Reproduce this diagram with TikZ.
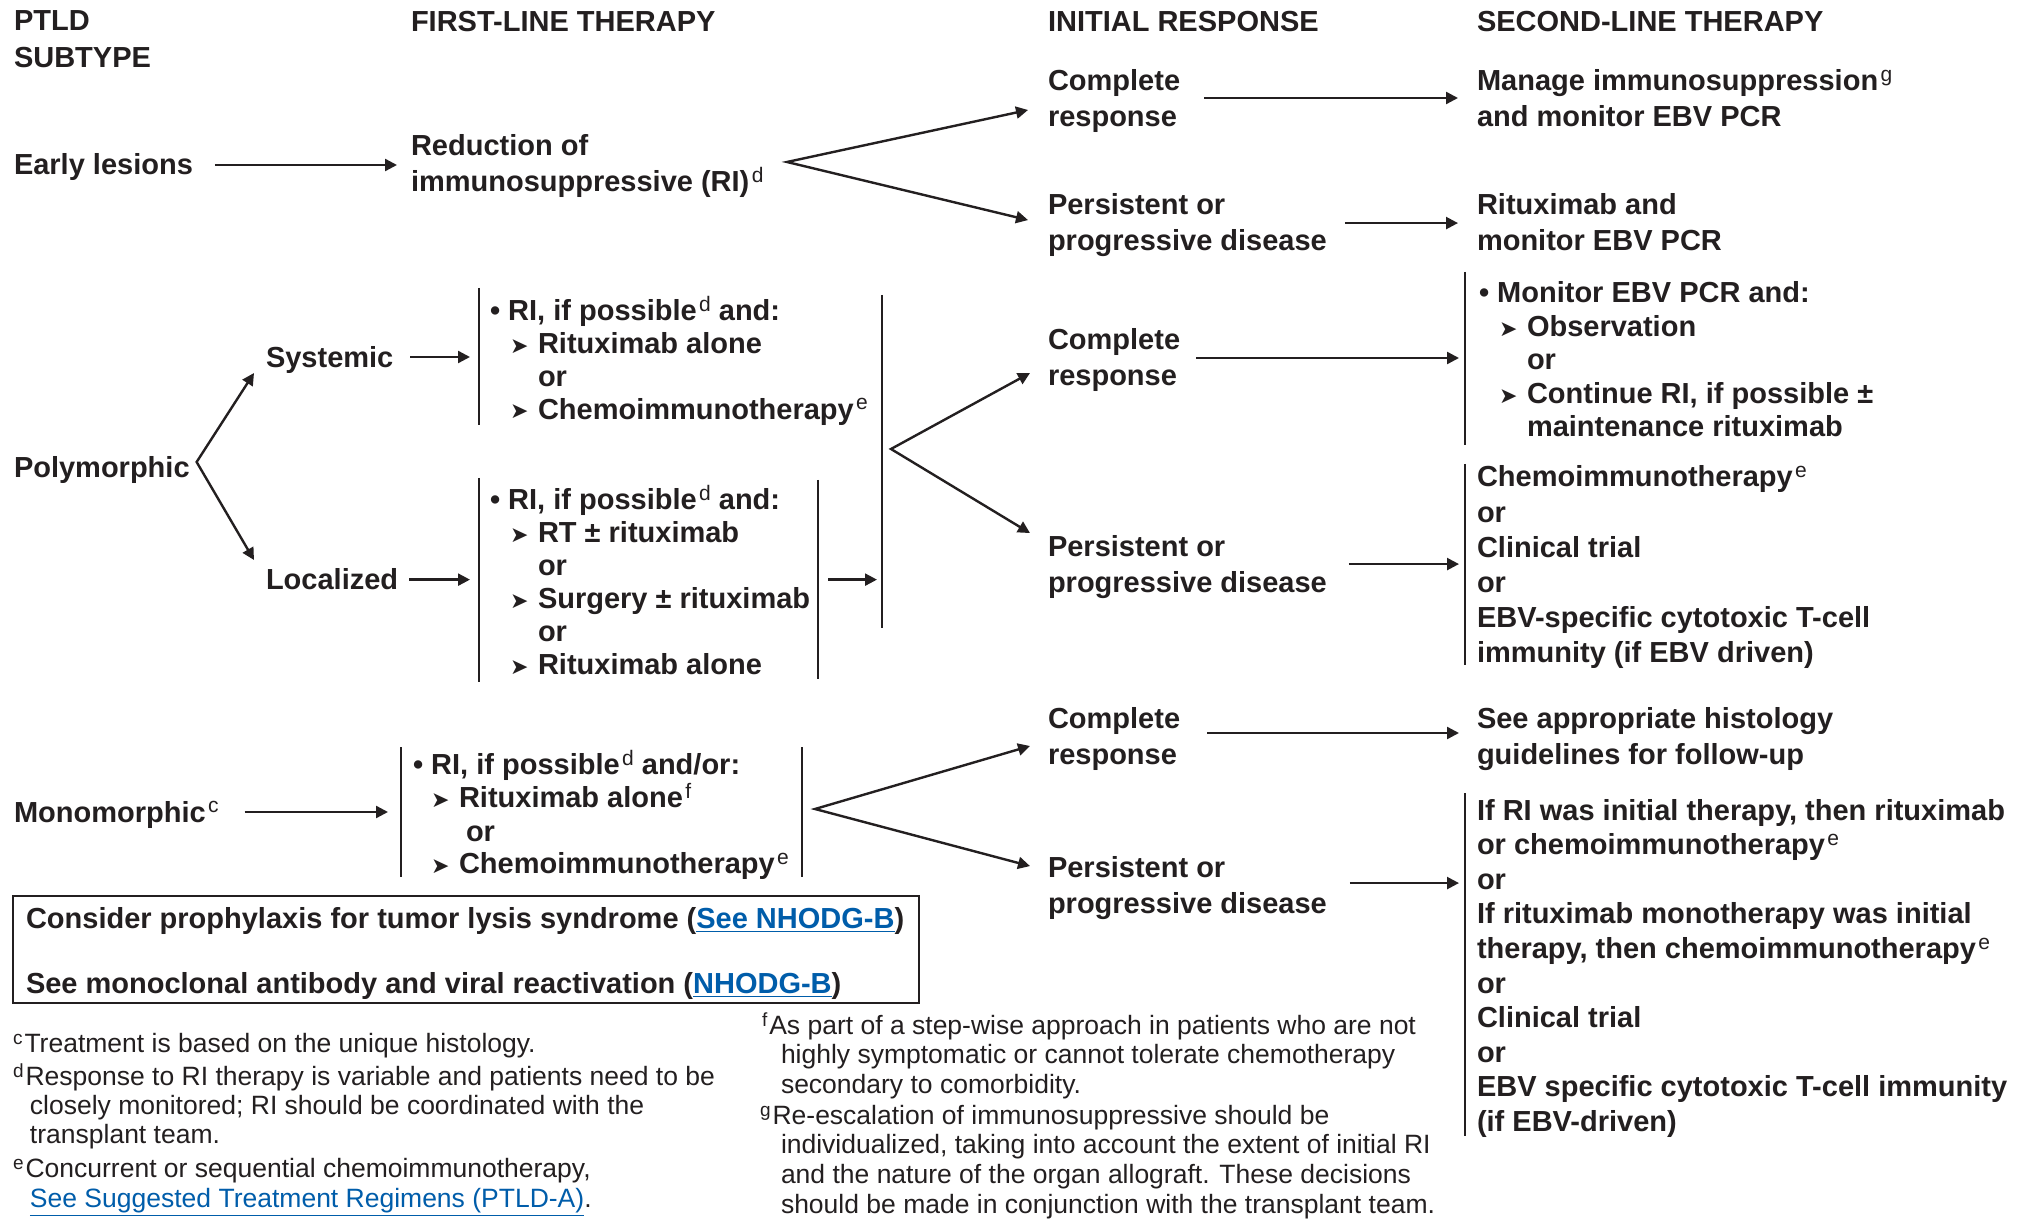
\documentclass[tikz,border=0pt]{standalone}
\usepackage{fontspec}
\setmainfont{Liberation Sans}
\newfontfamily\dvs{DejaVu Sans}
\usetikzlibrary{arrows.meta,calc}
\definecolor{ink}{HTML}{231F20}
\definecolor{linkblue}{HTML}{005DAA}
\newcommand\spr[1]{\kern1.2pt\raisebox{4.6pt}{\fontsize{10.5pt}{10.5pt}\selectfont\mdseries #1}}
\newcommand\fsp[1]{\raisebox{3.8pt}{\fontsize{9.5pt}{9.5pt}\selectfont #1}\kern1pt}
\newcommand\tri{\raisebox{0.2pt}{\dvs\fontsize{11pt}{11pt}\selectfont ➤}}
\newcommand\itm[3]{\hspace*{#1}\makebox[#2][l]{\tri}#3}
\newcommand\lnk[1]{{\color{linkblue}\underline{#1}}}
\newcommand\blk[2]{\vtop{\baselineskip=#1\relax\lineskiplimit=-50pt\relax #2}}
\newcommand\lline[1]{\hbox{#1}}
\begin{document}
\begin{tikzpicture}[x=0.5pt,y=-0.5pt,
  every node/.style={inner sep=0pt,outer sep=0pt,text=ink},
  bt/.style={anchor=base west,font=\bfseries\fontsize{14.5pt}{18pt}\selectfont},
  fn/.style={anchor=base west,font=\fontsize{13.25pt}{15pt}\selectfont},
  arr/.style={draw=ink,line width=1.2pt,-{Triangle[length=6pt,width=6pt]}},
  arrtwo/.style={draw=ink,line width=1.2pt,{Triangle[length=6pt,width=6pt]}-{Triangle[length=6pt,width=6pt]}},
  brk/.style={draw=ink,line width=0.9pt},
  boxl/.style={draw=ink,line width=1.3pt}
]
\fill[white] (0,0) rectangle (2026,1219);
\useasboundingbox (0,0) rectangle (2026,1219);

% headers
\node[bt] (h1) at (14,31) {\blk{18.5pt}{\lline{PTLD}\lline{SUBTYPE}}};
\node[bt] (h2) at (411,32) {FIRST-LINE THERAPY};
\node[bt] (h3) at (1048,32) {INITIAL RESPONSE};
\node[bt] (h4) at (1477,32) {SECOND-LINE THERAPY};

% early lesions
\node[bt] (early) at (14,175) {Early lesions};
\node[bt] (reduc) at (411,156) {\blk{18pt}{\lline{Reduction of}\lline{immunosuppressive (RI)\spr{d}}}};
\node[bt] (cr1) at (1048,91) {\blk{18pt}{\lline{Complete}\lline{response}}};
\node[bt] (pd1) at (1048,215) {\blk{18pt}{\lline{Persistent or}\lline{progressive disease}}};
\node[bt] (s1a) at (1477,91) {\blk{18pt}{\lline{Manage immunosuppression\spr{g}}\lline{and monitor EBV PCR}}};
\node[bt] (s1b) at (1477,215) {\blk{18pt}{\lline{Rituximab and}\lline{monitor EBV PCR}}};

\draw[arr] ($(early.east)+(22,-2.5)$) -- ($(reduc.west |- early.east)+(-14,-2.5)$);
\coordinate (v1) at (787,162);
\draw[arrtwo] ($(cr1.west)+(-20,8.5)$) -- (v1) -- ($(pd1.west)+(-20,-5.5)$);
\draw[arr] ($(cr1.east)+(24,-3.5)$) -- ($(s1a.west |- cr1.east)+(-19,-3.5)$);
\draw[arr] ($(pd1.east)+(18,-2.5)$) -- ($(s1b.west |- pd1.east)+(-19,-2.5)$);

% polymorphic
\node[bt] (poly) at (14,478) {Polymorphic};
\node[bt] (sys) at (266,368) {Systemic};
\node[bt] (loc) at (266,590) {Localized};
\coordinate (pv) at ($(poly.east)+(7,-8.5)$);
\draw[arrtwo] ($(sys.south west)+(-12,-1)$) -- (pv) -- ($(loc.north west)+(-12,-9)$);

\coordinate (sbT) at (479,288); \coordinate (sbB) at (479,425);
\coordinate (lbT) at (479,478); \coordinate (lbB) at (479,682);
\coordinate (lrT) at (818,480); \coordinate (lrB) at (818,679);
\coordinate (bgT) at (882,295); \coordinate (bgB) at (882,628);
\draw[brk] (sbT) -- (sbB);
\draw[brk] (lbT) -- (lbB);
\draw[brk] (lrT) -- (lrB);
\draw[brk] (bgT) -- (bgB);

\node[bt] (sysl) at (490,321) {\blk{16.35pt}{%
  \lline{• RI, if possible\spr{d} and:}%
  \lline{\itm{10pt}{14pt}{Rituximab alone}}%
  \lline{\hspace*{24pt}or}%
  \lline{\itm{10pt}{14pt}{Chemoimmunotherapy\spr{e}}}}};
\node[bt] (locl) at (490,510) {\blk{16.5pt}{%
  \lline{• RI, if possible\spr{d} and:}%
  \lline{\itm{10pt}{14pt}{RT ± rituximab}}%
  \lline{\hspace*{24pt}or}%
  \lline{\itm{10pt}{14pt}{Surgery ± rituximab}}%
  \lline{\hspace*{24pt}or}%
  \lline{\itm{10pt}{14pt}{Rituximab alone}}}};

\draw[arr] ($(sys.east)+(17,-3.5)$) -- ($(sbT |- sys.east)+(-9,-3.5)$);
\draw[arr] ($(loc.east)+(11,0)$) -- ($(lbT |- loc.east)+(-9,0)$);
\draw[arr] ($(lrT |- loc.east)+(10,0)$) -- ($(bgT |- loc.east)+(-5,0)$);

\coordinate (v2) at (891,449);
\node[bt] (cr2) at (1048,350) {\blk{18pt}{\lline{Complete}\lline{response}}};
\node[bt] (pd2) at (1048,557) {\blk{18pt}{\lline{Persistent or}\lline{progressive disease}}};
\draw[arrtwo] ($(cr2.west)+(-18,12.5)$) -- (v2) -- ($(pd2.west)+(-18,-34.5)$);

\coordinate (m1T) at (1465,272); \coordinate (m1B) at (1465,445);
\coordinate (c2T) at (1465,464); \coordinate (c2B) at (1465,665);
\draw[brk] (m1T) -- (m1B);
\draw[brk] (c2T) -- (c2B);
\draw[arr] ($(cr2.east)+(16,-2.5)$) -- ($(m1T |- cr2.east)+(-6,-2.5)$);
\draw[arr] ($(pd2.east)+(22,-3.5)$) -- ($(c2T |- pd2.east)+(-6,-3.5)$);

\node[bt] (s2a) at (1479,303) {\blk{16.75pt}{%
  \lline{• Monitor EBV PCR and:}%
  \lline{\itm{10pt}{14pt}{Observation}}%
  \lline{\hspace*{24pt}or}%
  \lline{\itm{10pt}{14pt}{Continue RI, if possible ±}}%
  \lline{\hspace*{24pt}maintenance rituximab}}};
\node[bt] (s2b) at (1477,487) {\blk{17.6pt}{%
  \lline{Chemoimmunotherapy\spr{e}}%
  \lline{or}%
  \lline{Clinical trial}%
  \lline{or}%
  \lline{EBV-specific cytotoxic T-cell}%
  \lline{immunity (if EBV driven)}}};

% monomorphic
\node[bt] (mono) at (14,822) {Monomorphic\spr{c}};
\coordinate (mlT) at (401,747); \coordinate (mlB) at (401,877);
\coordinate (mrT) at (802,747); \coordinate (mrB) at (802,877);
\draw[brk] (mlT) -- (mlB);
\draw[brk] (mrT) -- (mrB);
\draw[arr] ($(mono.east)+(26,-2.5)$) -- ($(mlT |- mono.east)+(-13,-2.5)$);
\node[bt] (monol) at (413,775) {\blk{16.5pt}{%
  \lline{• RI, if possible\spr{d} and/or:}%
  \lline{\itm{9pt}{14pt}{Rituximab alone\spr{f}}}%
  \lline{\hspace*{26.5pt}or}%
  \lline{\itm{9pt}{14pt}{Chemoimmunotherapy\spr{e}}}}};

\coordinate (v3) at (815,809);
\node[bt] (cr3) at (1048,728) {\blk{18pt}{\lline{Complete}\lline{response}}};
\node[bt] (pd3) at (1048,877) {\blk{18pt}{\lline{Persistent or}\lline{progressive disease}}};
\draw[arrtwo] ($(cr3.west)+(-18,7.5)$) -- (v3) -- ($(pd3.west)+(-18,-21.5)$);
\node[bt] (s3a) at (1477,728) {\blk{18pt}{\lline{See appropriate histology}\lline{guidelines for follow-up}}};
\coordinate (r3T) at (1465,793); \coordinate (r3B) at (1465,1136);
\draw[brk] (r3T) -- (r3B);
\draw[arr] ($(cr3.east)+(27,-5.5)$) -- ($(s3a.west |- cr3.east)+(-18,-5.5)$);
\draw[arr] ($(pd3.east)+(23,-4.5)$) -- ($(r3T |- pd3.east)+(-6,-4.5)$);
\node[bt] (s3b) at (1477,820) {\blk{17.3pt}{%
  \lline{If RI was initial therapy, then rituximab}%
  \lline{or chemoimmunotherapy\spr{e}}%
  \lline{or}%
  \lline{If rituximab monotherapy was initial}%
  \lline{therapy, then chemoimmunotherapy\spr{e}}%
  \lline{or}%
  \lline{Clinical trial}%
  \lline{or}%
  \lline{EBV specific cytotoxic T-cell immunity}%
  \lline{(if EBV-driven)}}};

% box
\draw[boxl] (13,896) rectangle (919,1003);
\node[bt] (tls) at (26,928) {Consider prophylaxis for tumor lysis syndrome (\lnk{See NHODG-B})};
\node[bt] (mab) at (26,993) {See monoclonal antibody and viral reactivation (\lnk{NHODG-B})};

% footnotes
\node[fn] (fc) at (13,1052) {\fsp{c}Treatment is based on the unique histology.};
\node[fn] (fd) at (13,1085) {\blk{14.5pt}{%
  \lline{\fsp{d}Response to RI therapy is variable and patients need to be}%
  \lline{\hspace*{8.5pt}closely monitored; RI should be coordinated with the}%
  \lline{\hspace*{8.5pt}transplant team.}}};
\node[fn] (fe) at (13,1177) {\blk{15pt}{%
  \lline{\fsp{e}Concurrent or sequential chemoimmunotherapy,}%
  \lline{\hspace*{8.5pt}\lnk{See Suggested Treatment Regimens (PTLD-A)}.}}};
\node[fn] (ff) at (762,1034) {\blk{14.85pt}{%
  \lline{\fsp{f}As part of a step-wise approach in patients who are not}%
  \lline{\hspace*{9.5pt}highly symptomatic or cannot tolerate chemotherapy}%
  \lline{\hspace*{9.5pt}secondary to comorbidity.}}};
\node[fn] (fg) at (760,1124) {\blk{14.85pt}{%
  \lline{\fsp{g}Re-escalation of immunosuppressive should be}%
  \lline{\hspace*{10.5pt}individualized, taking into account the extent of initial RI}%
  \lline{\hspace*{10.5pt}and the nature of the organ allograft. These decisions}%
  \lline{\hspace*{10.5pt}should be made in conjunction with the transplant team.}}};
\end{tikzpicture}
\end{document}
